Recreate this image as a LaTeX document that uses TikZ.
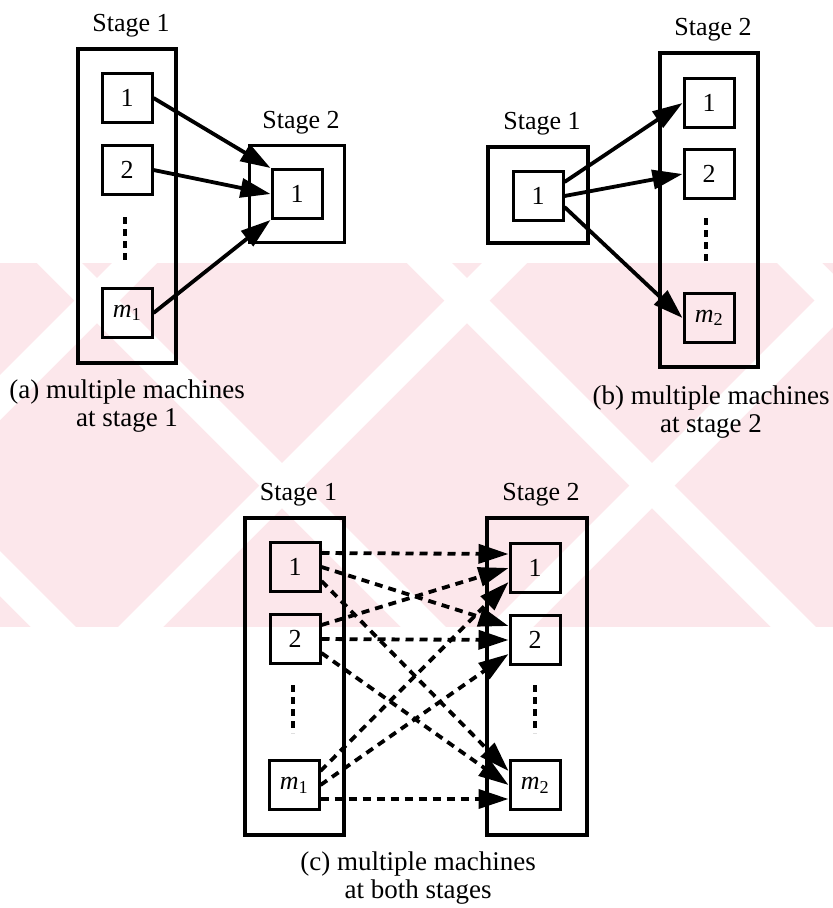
\documentclass[tikz,border=0pt]{standalone}
\usepackage{fontspec}
\setmainfont{Liberation Serif}
\usetikzlibrary{arrows.meta,positioning}

\definecolor{wmpink}{RGB}{252,231,235}

\tikzset{
  mbox/.style={draw, line width=3pt, minimum width=50pt, minimum height=49pt,
    inner sep=0pt, font=\fontsize{26}{29}\selectfont},
  stagebox/.style={draw, line width=3.2pt, inner sep=0pt},
  stagelbl/.style={font=\fontsize{26}{29}\selectfont, inner sep=0pt},
  caption/.style={align=center, font=\fontsize{27}{28}\selectfont, inner sep=0pt},
  flow/.style={line width=3.8pt, -{Triangle[length=30pt,width=19pt]}},
  dflow/.style={flow, dash pattern=on 8pt off 6pt},
  vdots/.style={line width=3.6pt, dash pattern=on 7pt off 5pt},
}
\newcommand{\mach}[1]{\textit{m}\textsubscript{#1}}

\begin{document}
\begin{tikzpicture}[x=1pt,y=-1pt]
\useasboundingbox (0,0) rectangle (833,908);
%
% background band
\begin{scope}
  \clip (0,263) rectangle (833,627);
  \fill[wmpink] (0,263) rectangle (833,627);
  \foreach \b in {-252,118,488,858}
    \fill[white] (\b,627) -- (\b+45,627) -- (\b+409,263) -- (\b+364,263) -- cycle;
  \foreach \t in {-333,37,407,777}
    \fill[white] (\t,263) -- (\t+45,263) -- (\t+409,627) -- (\t+364,627) -- cycle;
\end{scope}
%
% (a) multiple machines at stage 1
\node[stagebox, minimum width=98pt, minimum height=314pt] (a1) at (127,206) {};
\node[stagelbl, above=10pt of a1, xshift=4pt] {Stage 1};
\node[mbox] (a11) at (127,98) {1};
\node[mbox] (a12) at (127,170) {2};
\node[mbox] (a1m) at (127,313) {\mach{1}};
\draw[vdots] (125,217) -- (125,263);
\node[stagebox, minimum width=95pt, minimum height=97pt] (a2) at (297,194) {};
\node[stagelbl, above=10pt of a2, xshift=4pt] {Stage 2};
\node[mbox] (a21) at (297,194) {1};
\draw[flow] (a11.east) -- (a21.north west);
\draw[flow] (a12.east) -- (a21.west);
\draw[flow] (a1m.east) -- (a21.south west);
\node[caption] at (127,406) {(a) multiple machines\\at stage 1};
%
% (b) multiple machines at stage 2
\node[stagebox, minimum width=100pt, minimum height=96pt] (b1) at (538,195) {};
\node[stagelbl, above=10pt of b1, xshift=4pt] {Stage 1};
\node[mbox] (b11) at (538,196) {1};
\node[stagebox, minimum width=98pt, minimum height=314pt] (b2) at (709,210) {};
\node[stagelbl, above=10pt of b2, xshift=4pt] {Stage 2};
\node[mbox] (b21) at (709,103) {1};
\node[mbox] (b22) at (709,174) {2};
\node[mbox] (b2m) at (709,318) {\mach{2}};
\draw[vdots] (706,218) -- (706,265);
\draw[flow] ([yshift=14pt]b11.east) -- (b21.west);
\draw[flow] (b11.east) -- (b22.west);
\draw[flow] ([yshift=-11pt]b11.east) -- (b2m.west);
\node[caption] at (711,412) {(b) multiple machines\\at stage 2};
%
% (c) multiple machines at both stages
\node[stagebox, minimum width=99pt, minimum height=317pt] (c1) at (294.5,676.5) {};
\node[stagelbl, above=10pt of c1, xshift=4pt] {Stage 1};
\node[mbox] (c11) at (295,567) {1};
\node[mbox] (c12) at (295,639) {2};
\node[mbox] (c1m) at (294,785) {\mach{1}};
\draw[vdots] (293,685) -- (293,733);
\node[stagebox, minimum width=100pt, minimum height=317pt] (c2) at (537,676.5) {};
\node[stagelbl, above=10pt of c2, xshift=4pt] {Stage 2};
\node[mbox] (c21) at (535,568) {1};
\node[mbox] (c22) at (535,640) {2};
\node[mbox] (c2m) at (535,785) {\mach{2}};
\draw[vdots] (535,685) -- (535,733);
\foreach \s/\ds in {1/14pt,2/0pt,m/-14pt}
  \foreach \t/\dt in {1/14pt,2/0pt,m/-14pt}
    \draw[dflow] ([yshift=\dt]c1\s.east) -- ([yshift=\ds]c2\t.west);
\node[caption] at (418,878) {(c) multiple machines\\at both stages};
\end{tikzpicture}
\end{document}
